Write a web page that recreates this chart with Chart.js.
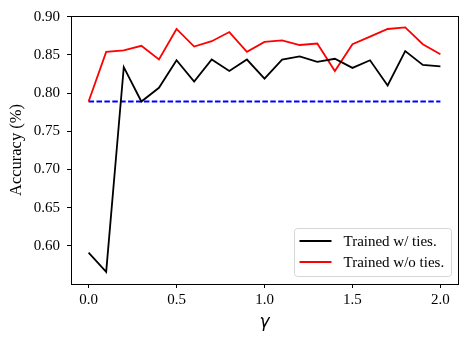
<!DOCTYPE html>
<html>
<head>
<meta charset="utf-8">
<script src="https://cdn.jsdelivr.net/npm/chart.js@4.4.1/dist/chart.umd.min.js"></script>
<style>
  html, body { margin: 0; padding: 0; background: #fff; }
  #wrap { width: 467px; height: 343px; }
</style>
</head>
<body>
<div id="wrap"><canvas id="chart" width="467" height="343"></canvas></div>
<script>
// values
const gammas = [0.0, 0.1, 0.2, 0.3, 0.4, 0.5, 0.6, 0.7, 0.8, 0.9, 1.0,
                1.1, 1.2, 1.3, 1.4, 1.5, 1.6, 1.7, 1.8, 1.9, 2.0];
const withTies = [0.591, 0.566, 0.834, 0.789, 0.807, 0.843, 0.815, 0.844, 0.829, 0.844, 0.819,
                  0.844, 0.848, 0.841, 0.845, 0.833, 0.843, 0.810, 0.855, 0.837, 0.835];
const withoutTies = [0.789, 0.854, 0.856, 0.862, 0.844, 0.884, 0.861, 0.868, 0.880, 0.854, 0.867,
                     0.869, 0.863, 0.865, 0.829, 0.864, 0.874, 0.884, 0.886, 0.864, 0.851];
const baseline = 0.789;
const xTicks = [0.0, 0.5, 1.0, 1.5, 2.0];
const yTicks = [0.60, 0.65, 0.70, 0.75, 0.80, 0.85, 0.90];
const seriesLabels = ['Trained w/ ties.', 'Trained w/o ties.'];

const serif = "'Liberation Serif', 'Times New Roman', serif";

function toPoints(ys) {
    return gammas.map((g, i) => ({ x: g, y: ys[i] }));
}

// matplotlib style frame around the axes
const framePlugin = {
    id: 'frame',
    afterDraw(chart) {
        const { ctx, chartArea: a } = chart;
        ctx.save();
        ctx.strokeStyle = '#000';
        ctx.lineWidth = 1;
        ctx.strokeRect(Math.round(a.left) + 0.5, Math.round(a.top) + 0.5,
                       Math.round(a.right - a.left), Math.round(a.bottom - a.top));
        ctx.restore();
    }
};

// legend box in the lower right corner of the axes
const legendPlugin = {
    id: 'boxLegend',
    afterDraw(chart) {
        const { ctx, chartArea: a } = chart;
        const w = 157, h = 48;
        const x = Math.round(a.right - 7 - w) + 0.5;
        const y = Math.round(a.bottom - 8 - h) + 0.5;
        ctx.save();
        ctx.fillStyle = 'rgba(255,255,255,0.8)';
        ctx.strokeStyle = '#d6d6d6';
        ctx.lineWidth = 1;
        ctx.beginPath();
        ctx.roundRect(x, y, w, h, 3);
        ctx.fill();
        ctx.stroke();
        ctx.font = '15px ' + serif;
        ctx.textBaseline = 'middle';
        ctx.fillStyle = '#000';
        const entries = chart.data.datasets.filter(d => seriesLabels.includes(d.label));
        entries.forEach((d, i) => {
            const cy = y + 12.5 + i * 21;
            ctx.strokeStyle = d.borderColor;
            ctx.lineWidth = 1.8;
            ctx.beginPath();
            ctx.moveTo(x + 5, cy);
            ctx.lineTo(x + 37, cy);
            ctx.stroke();
            ctx.fillText(d.label, x + 49, cy + 1);
        });
        ctx.restore();
    }
};

new Chart(document.getElementById('chart'), {
    type: 'line',
    data: {
        datasets: [
            {
                label: seriesLabels[0],
                data: toPoints(withTies),
                borderColor: '#000000',
                borderWidth: 1.8,
                pointRadius: 0,
                tension: 0
            },
            {
                label: seriesLabels[1],
                data: toPoints(withoutTies),
                borderColor: '#ff0000',
                borderWidth: 1.8,
                pointRadius: 0,
                tension: 0
            },
            {
                label: 'baseline',
                data: [{ x: gammas[0], y: baseline }, { x: gammas[gammas.length - 1], y: baseline }],
                borderColor: '#0000ff',
                borderWidth: 1.8,
                borderDash: [5.5, 2.4],
                pointRadius: 0
            }
        ]
    },
    options: {
        responsive: false,
        animation: false,
        layout: { padding: { top: 14, right: 9, left: 0, bottom: 0 } },
        plugins: {
            legend: { display: false },
            tooltip: { enabled: false }
        },
        scales: {
            x: {
                type: 'linear',
                min: -0.1,
                max: 2.1,
                afterBuildTicks: scale => { scale.ticks = xTicks.map(v => ({ value: v })); },
                afterFit: scale => { scale.height = 59; },
                border: { display: false },
                grid: { display: true, drawOnChartArea: false, drawTicks: true, tickLength: 4, color: '#000' },
                ticks: {
                    color: '#000',
                    padding: 3,
                    maxRotation: 0,
                    font: { family: serif, size: 15 },
                    callback: v => v.toFixed(1)
                },
                title: {
                    display: true,
                    text: 'γ',
                    color: '#000',
                    font: { family: "'DejaVu Sans', sans-serif", size: 17, style: 'italic' },
                    padding: { top: 0, bottom: 10 }
                }
            },
            y: {
                type: 'linear',
                min: 0.55,
                max: 0.901,
                afterBuildTicks: scale => { scale.ticks = yTicks.map(v => ({ value: v })); },
                afterFit: scale => { scale.width = 71; },
                border: { display: false },
                grid: { display: true, drawOnChartArea: false, drawTicks: true, tickLength: 4, color: '#000' },
                ticks: {
                    color: '#000',
                    padding: 7,
                    font: { family: serif, size: 15 },
                    callback: v => v.toFixed(2)
                },
                title: {
                    display: true,
                    text: 'Accuracy (%)',
                    color: '#000',
                    font: { family: serif, size: 16.5 },
                    padding: { top: 7, bottom: 0 }
                }
            }
        }
    },
    plugins: [framePlugin, legendPlugin]
});
</script>
</body>
</html>
